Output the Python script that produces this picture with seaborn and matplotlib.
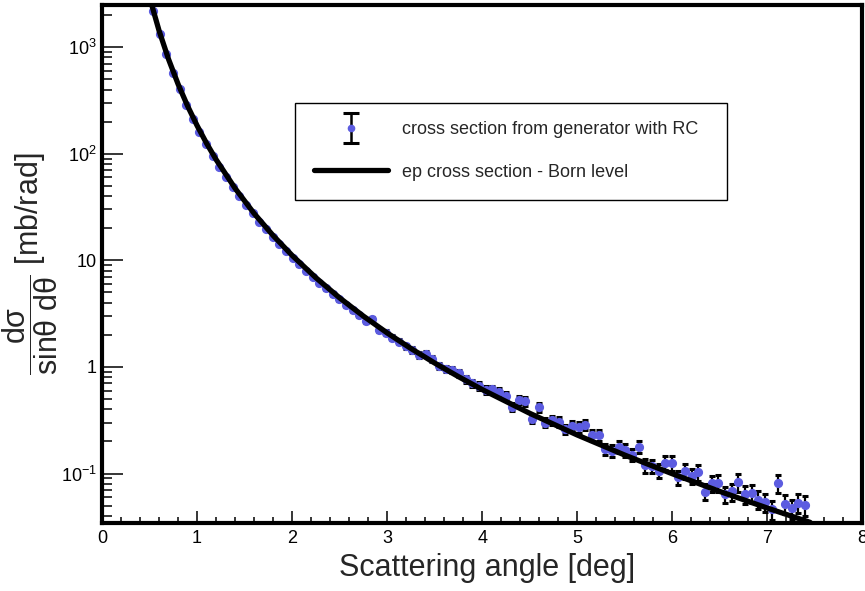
import numpy as np
import pandas as pd
import matplotlib
matplotlib.use("Agg")
import matplotlib.pyplot as plt
from matplotlib.ticker import (FixedLocator, FixedFormatter, LogLocator,
                               NullFormatter, MultipleLocator)
from matplotlib.legend_handler import HandlerErrorbar
import seaborn as sns

# bin centres of the generated histogram [deg]
angle = [0.535, 0.605, 0.675, 0.745, 0.815, 0.885, 0.955, 1.025, 1.095, 1.165,
         1.235, 1.305, 1.375, 1.445, 1.515, 1.585, 1.655, 1.725, 1.795, 1.865,
         1.935, 2.005, 2.075, 2.145, 2.215, 2.285, 2.355, 2.425, 2.495, 2.565,
         2.635, 2.705, 2.775, 2.845, 2.915, 2.985, 3.055, 3.125, 3.195, 3.265,
         3.335, 3.405, 3.475, 3.545, 3.615, 3.685, 3.755, 3.825, 3.895, 3.965,
         4.035, 4.105, 4.175, 4.245, 4.315, 4.385, 4.455, 4.525, 4.595, 4.665,
         4.735, 4.805, 4.875, 4.945, 5.015, 5.085, 5.155, 5.225, 5.295, 5.365,
         5.435, 5.505, 5.575, 5.645, 5.715, 5.785, 5.855, 5.925, 5.995, 6.065,
         6.135, 6.205, 6.275, 6.345, 6.415, 6.485, 6.555, 6.625, 6.695, 6.765,
         6.835, 6.905, 6.975, 7.045, 7.115, 7.185, 7.255, 7.325, 7.395]

# cross section from generator with RC [mb/rad]
xsec_rc = [2190, 1328, 857, 578, 403, 288, 212, 159.5, 122.2, 95.3,
           75.3, 60.3, 48.8, 39.9, 33.0, 27.5, 23.0, 19.5, 16.6, 14.2,
           12.2, 10.55, 9.17, 8.01, 7.02, 6.18, 5.45, 4.83, 4.30, 3.83,
           3.43, 3.07, 2.72, 2.80, 2.22, 2.10, 1.88, 1.72, 1.56, 1.445,
           1.30, 1.33, 1.18, 1.02, 0.95, 0.935, 0.87, 0.77, 0.70, 0.665,
           0.61, 0.615, 0.58, 0.535, 0.425, 0.49, 0.475, 0.325, 0.42, 0.30,
           0.315, 0.306, 0.260, 0.279, 0.272, 0.287, 0.230, 0.228, 0.169, 0.164,
           0.179, 0.166, 0.150, 0.179, 0.119, 0.118, 0.106, 0.126, 0.126, 0.092,
           0.106, 0.095, 0.103, 0.0675, 0.081, 0.082, 0.064, 0.068, 0.083, 0.064,
           0.065, 0.057, 0.054, 0.046, 0.081, 0.052, 0.047, 0.053, 0.0505]

# relative statistical error of each bin
rel_err = [0.004, 0.005, 0.006, 0.007, 0.008, 0.009, 0.010, 0.011, 0.012, 0.013,
           0.014, 0.015, 0.016, 0.017, 0.018, 0.019, 0.020, 0.022, 0.023, 0.024,
           0.025, 0.027, 0.028, 0.029, 0.031, 0.032, 0.034, 0.035, 0.037, 0.038,
           0.040, 0.042, 0.043, 0.045, 0.047, 0.049, 0.051, 0.053, 0.055, 0.057,
           0.059, 0.061, 0.063, 0.065, 0.067, 0.069, 0.071, 0.073, 0.075, 0.077,
           0.079, 0.081, 0.083, 0.085, 0.087, 0.089, 0.091, 0.093, 0.095, 0.097,
           0.100, 0.103, 0.106, 0.109, 0.112, 0.115, 0.118, 0.121, 0.124, 0.127,
           0.130, 0.133, 0.136, 0.139, 0.142, 0.145, 0.148, 0.151, 0.154, 0.157,
           0.160, 0.163, 0.166, 0.169, 0.172, 0.175, 0.178, 0.181, 0.184, 0.187,
           0.190, 0.192, 0.194, 0.196, 0.198, 0.200, 0.202, 0.204, 0.206]

# ep cross section, Born level
born_angle = [0.52, 0.6, 0.7, 0.8, 0.9, 1.0, 1.1, 1.2, 1.4, 1.6, 1.8, 2.0, 2.25,
              2.5, 2.75, 3.0, 3.25, 3.5, 3.75, 4.0, 4.5, 5.0, 5.5, 6.0, 6.5, 7.0, 7.45]
born_xsec = [2536, 1424, 768, 449.5, 280.2, 183.5, 125.0, 88.1, 47.3, 27.5, 17.07,
             11.11, 6.86, 4.44, 2.995, 2.083, 1.488, 1.087, 0.810, 0.613, 0.367,
             0.2296, 0.1488, 0.0994, 0.0679, 0.0474, 0.0348]

label_rc = "cross section from generator with RC"
label_born = "ep cross section - Born level"
dot_color = "#5c5ce0"

sns.set_theme(style="ticks")
plt.rcParams["font.family"] = ["Liberation Sans", "DejaVu Sans"]
plt.rcParams["mathtext.fontset"] = "custom"
plt.rcParams["mathtext.rm"] = "Liberation Sans"
plt.rcParams["mathtext.it"] = "Liberation Sans:italic"
plt.rcParams["mathtext.bf"] = "Liberation Sans:bold"

df_rc = pd.DataFrame({"angle": angle, "xsec": xsec_rc})
df_rc["err"] = df_rc["xsec"] * np.array(rel_err)
df_born = pd.DataFrame({"angle": born_angle, "xsec": born_xsec})

fig = plt.figure(figsize=(8.65, 5.91), dpi=100)
ax = fig.add_axes([0.118, 0.115, 0.879, 0.877])

ax.errorbar(df_rc["angle"], df_rc["xsec"], yerr=df_rc["err"], fmt="o",
            color=dot_color, mec=dot_color, ms=5.6, ecolor="black",
            elinewidth=1.6, capsize=2.2, capthick=2.2, zorder=2)
sns.lineplot(data=df_born, x="angle", y="xsec", color="black", lw=3.8,
             sort=False, estimator=None, ax=ax, zorder=3, legend=False)
born_line = ax.lines[-1]

# legend proxy: ROOT style bar with wide end caps
eb_proxy = ax.errorbar([np.nan], [np.nan], yerr=[np.nan], fmt="o",
                       color=dot_color, mec=dot_color, ms=4.5, ecolor="black",
                       elinewidth=1.8, capsize=5.5, capthick=2.2)

ax.set_yscale("log")
ax.set_xlim(0, 8)
ax.set_ylim(0.0343, 2500)

ax.xaxis.set_major_locator(MultipleLocator(1))
ax.xaxis.set_minor_locator(MultipleLocator(0.2))
ax.yaxis.set_major_locator(FixedLocator([0.1, 1, 10, 100, 1000]))
ax.yaxis.set_major_formatter(FixedFormatter(
    [r"$10^{-1}$", "1", "10", r"$10^{2}$", r"$10^{3}$"]))
ax.yaxis.set_minor_locator(LogLocator(base=10, subs=np.arange(2, 10), numticks=20))
ax.yaxis.set_minor_formatter(NullFormatter())

ax.tick_params(axis="both", which="both", direction="in", top=False, right=False,
               width=1.1, color="black", labelcolor="black", labelsize=13)
ax.tick_params(axis="x", which="major", length=8.6, pad=5)
ax.tick_params(axis="x", which="minor", length=4.3)
ax.tick_params(axis="y", which="major", length=15, pad=4)
ax.tick_params(axis="y", which="minor", length=7.2)
for s in ax.spines.values():
    s.set_linewidth(3)
    s.set_color("black")

ax.set_xlabel("Scattering angle [deg]", fontsize=22)
ax.xaxis.set_label_coords(0.507, -0.058)
ax.set_ylabel(r"$\dfrac{\mathrm{d\sigma}}{\mathrm{sin\theta\ d\theta}}$ [mb/rad]",
              fontsize=22)
ax.yaxis.set_label_coords(-0.055, 0.5)

leg = ax.legend([eb_proxy, born_line], [label_rc, label_born], loc="upper left",
                bbox_to_anchor=(0.254, 0.811, 0.568, 0), mode="expand",
                handler_map={eb_proxy: HandlerErrorbar(yerr_size=0.85)},
                frameon=True, fancybox=False, edgecolor="black", framealpha=1,
                fontsize=13, handlelength=4.1, handletextpad=0.8, borderpad=1.04,
                labelspacing=1.4, borderaxespad=0)
leg.get_frame().set_linewidth(1.0)

fig.savefig("out.png", dpi=100)
